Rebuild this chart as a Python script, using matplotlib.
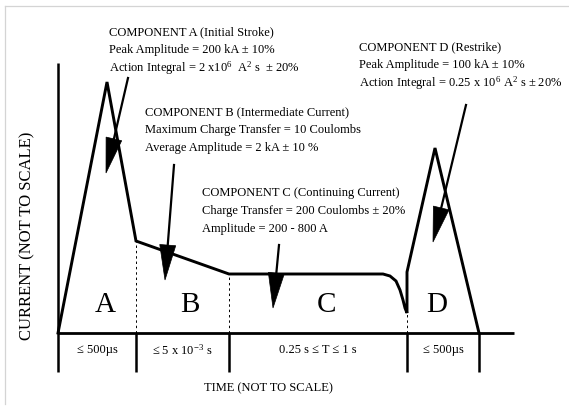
import numpy as np
import matplotlib
matplotlib.use("Agg")
import matplotlib.pyplot as plt
from matplotlib.lines import Line2D
from matplotlib.patches import Polygon

plt.rcParams["font.family"] = ["Liberation Serif", "DejaVu Serif"]
plt.rcParams["mathtext.fontset"] = "custom"
plt.rcParams["mathtext.rm"] = "Liberation Serif"
plt.rcParams["mathtext.it"] = "Liberation Serif:italic"

# Schematic lightning current waveform (arbitrary, not-to-scale units)
phase_bounds = [0, 78, 171, 349, 421]          # A | B | C | D boundaries
wave_t = [0, 49, 78, 171, 325, 332, 338, 342, 345, 347, 349, 349, 377, 421]
wave_i = [0, 251, 92, 59, 59, 57, 52, 43, 33, 25, 20, 61, 185, 0]
dash_tops = [92, 59, 20]                        # waveform level at B, C, D starts

phase_letters = ["A", "B", "C", "D"]
letter_t = [47, 132, 269, 379]
letter_i = 28

duration_labels = [r"≤ 500µs", r"≤ 5 x 10$^{\mathrm{-3}}$ s",
                   r"0.25 s ≤ T ≤ 1 s", r"≤ 500µs"]

component_notes = [
    ["COMPONENT A (Initial Stroke)",
     "Peak Amplitude = 200 kA ± 10%",
     r"Action Integral = 2 x10$^{\mathrm{6}}$  A$^{\mathrm{2}}$ s  ± 20%"],
    ["COMPONENT B (Intermediate Current)",
     "Maximum Charge Transfer = 10 Coulombs",
     "Average Amplitude = 2 kA ± 10 %"],
    ["COMPONENT C (Continuing Current)",
     "Charge Transfer = 200 Coulombs ± 20%",
     "Amplitude = 200 - 800 A"],
    ["COMPONENT D (Restrike)",
     "Peak Amplitude = 100 kA ± 10%",
     r"Action Integral = 0.25 x 10$^{\mathrm{6}}$ A$^{\mathrm{2}}$ s ± 20%"],
]
note_x = [51, 87, 144, 301]
note_top = [301, 221, 140, 286]

# pointer arrows: (tail, head) for each component note
arrow_tail = [(70, 255), (116, 168), (221, 88), (408, 228)]
arrow_head = [(48, 160), (107, 53), (215, 25), (375, 91)]

W, H = 569, 408
fig = plt.figure(figsize=(W / 100, H / 100), dpi=100)
ox, oy = 58, 333          # origin of the diagram in pixels
ax = fig.add_axes([ox / W, (H - oy) / H, 456 / W, 270 / H])
ax.set_xlim(0, 456)
ax.set_ylim(0, 270)
ax.axis("off")

# outer frame (top and left edges)
fig.add_artist(Line2D([5 / W, 1], [1 - 6 / H, 1 - 6 / H], color="#d4d4d4", lw=0.9))
fig.add_artist(Line2D([5 / W, 5 / W], [1 - 6 / H, 1 - 404 / H], color="#d4d4d4", lw=0.9))

# axes of the diagram
tick_len = 39
ax.plot([0, 456], [0, 0], color="black", lw=2.0, clip_on=False, solid_capstyle="butt")
ax.plot([0, 0], [-tick_len, 270], color="black", lw=1.8, clip_on=False, solid_capstyle="butt")
for b in phase_bounds[1:]:
    ax.plot([b, b], [-tick_len, 0], color="black", lw=1.8, clip_on=False, solid_capstyle="butt")

# dashed phase separators
for b, top in zip(phase_bounds[1:4], dash_tops):
    ax.plot([b, b], [0, top], color="black", lw=0.7, ls=(0, (2.5, 3)), clip_on=False)

# waveform
ax.plot(wave_t, wave_i, color="black", lw=2.1, clip_on=False, solid_joinstyle="miter")

# phase letters
for t, s in zip(letter_t, phase_letters):
    ax.text(t, letter_i, s, fontsize=21, ha="center", va="center")

# durations under the time axis
for k, lab in enumerate(duration_labels):
    mid = (phase_bounds[k] + phase_bounds[k + 1]) / 2
    ax.text(mid, -17, lab, fontsize=9, ha="center", va="center")

ax.text(210, -55, "TIME (NOT TO SCALE)", fontsize=9, ha="center", va="center")
ax.text(-31, 97, "CURRENT (NOT TO SCALE)", fontsize=12, ha="center", va="center",
        rotation=90)

# component notes
for x, top, lines in zip(note_x, note_top, component_notes):
    for j, line in enumerate(lines):
        ax.text(x, top - 18 * j, line, fontsize=9, ha="left", va="center")

# pointer arrows with solid triangular heads
head_len, head_half = 35, 8
for (x0, y0), (x1, y1) in zip(arrow_tail, arrow_head):
    d = np.array([x1 - x0, y1 - y0], dtype=float)
    d /= np.hypot(*d)
    n = np.array([-d[1], d[0]])
    base = np.array([x1, y1]) - head_len * d
    ax.plot([x0, base[0]], [y0, base[1]], color="black", lw=1.6, clip_on=False)
    tri = [tuple(base + head_half * n), (x1, y1), tuple(base - head_half * n)]
    ax.add_patch(Polygon(tri, closed=True, facecolor="black", edgecolor="black",
                         lw=0.5, clip_on=False))

fig.savefig("out.png", dpi=100)
